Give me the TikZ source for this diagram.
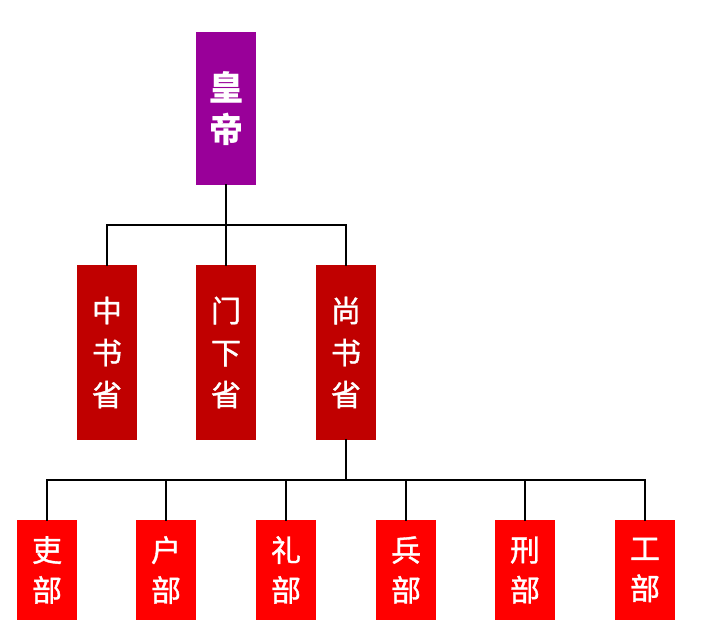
\documentclass[tikz,border=0pt]{standalone}
\usepackage{fontspec}
\newfontfamily\cjk{Noto Sans CJK SC}
\newfontfamily\cjkmid[FakeBold=1.2]{Noto Sans CJK SC}
\definecolor{emperor}{HTML}{990099}
\definecolor{office}{HTML}{C00000}
\definecolor{ministry}{HTML}{FF0000}
\begin{document}
\begin{tikzpicture}[x=1pt,y=-1pt,line join=miter,line cap=rect,font=\cjk]
                \tikzset{box/.style={inner sep=0pt,minimum width=60pt,text=white,align=center},
                         bosshead/.style={box,fill=emperor,minimum height=153pt,font=\cjk\bfseries\fontsize{34}{42}\selectfont},
                         shengbox/.style={box,fill=office,minimum height=175pt,font=\cjkmid\fontsize{30}{42}\selectfont},
                         bubox/.style={box,fill=ministry,minimum height=100pt,font=\cjkmid\fontsize{30}{40}\selectfont},
                         wire/.style={line width=2.8pt,black}}
                \useasboundingbox (0,0) rectangle (704,642);
                \node[bosshead] (huangdi) at (226,108.5) {皇\\帝};
                \node[shengbox] (zhongshu) at (107,352.5) {中\\书\\省};
                \node[shengbox] (menxia) at (226,352.5) {门\\下\\省};
                \node[shengbox] (shangshu) at (346,352.5) {尚\\书\\省};
                \node[bubox] (libu) at (47,570) {吏\\部};
                \node[bubox] (hubu) at (166,570) {户\\部};
                \node[bubox] (lbu) at (286,570) {礼\\部};
                \node[bubox] (bingbu) at (406,570) {兵\\部};
                \node[bubox] (xingbu) at (525,570) {刑\\部};
                \node[bubox] (gongbu) at (645,570) {工\\部};
                \coordinate (bus1) at (226,225);
                \coordinate (bus2) at (346,480);
                \draw[wire] (huangdi.south)--(menxia.north);
                \draw[wire] (zhongshu.north) |- (bus1) -| (shangshu.north);
                \draw[wire] (shangshu.south)--(bus2);
                \draw[wire] (libu.north) |- (bus2) -| (gongbu.north);
                \foreach \b in {hubu,lbu,bingbu,xingbu}
                \draw[wire] (\b.north)--(\b.north |- bus2);
            \end{tikzpicture}
\end{document}
